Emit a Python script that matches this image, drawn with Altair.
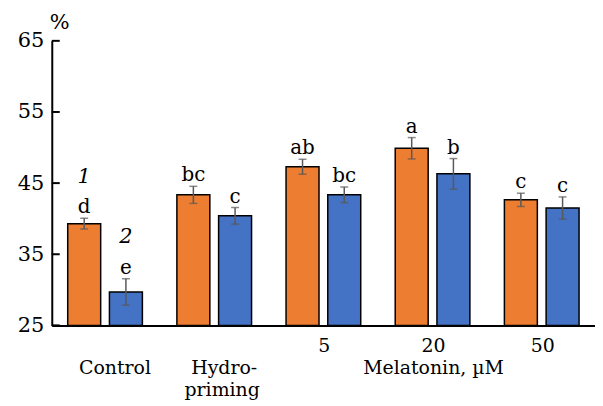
import altair as alt
import pandas as pd

groups = ["Control", "Hydro-priming", "5", "20", "50"]
series = ["1", "2"]
values_1 = [39.3, 43.35, 47.3, 49.9, 42.65]
values_2 = [29.7, 40.4, 43.35, 46.3, 41.5]
errors_1 = [0.75, 1.2, 1.05, 1.5, 0.93]
errors_2 = [1.86, 1.17, 1.1, 2.15, 1.56]
letters_1 = ["d", "bc", "ab", "a", "c"]
letters_2 = ["e", "c", "bc", "b", "c"]
y_ticks = [25, 35, 45, 55, 65]
colors = ["#ED7D31", "#4472C4"]

rows = []
for i, g in enumerate(groups):
    for s, vals, errs, lets in [("1", values_1, errors_1, letters_1), ("2", values_2, errors_2, letters_2)]:
        rows.append({
            "group": g, "series": s, "value": vals[i],
            "lo": vals[i] - errs[i], "hi": vals[i] + errs[i],
            "letter": lets[i], "num": s if g == "Control" else "",
        })
df = pd.DataFrame(rows)

FONT = "DejaVu Serif"

xenc = alt.X("group:N", sort=groups,
             scale=alt.Scale(paddingInner=0.316, paddingOuter=0.146),
             axis=alt.Axis(labels=False, ticks=False, title=None, grid=False,
                           domainColor="black", domainWidth=2))
xoff = alt.XOffset("series:N", sort=series, scale=alt.Scale(paddingInner=0.21, paddingOuter=0))
yscale = alt.Scale(domain=[25, 65], zero=False, nice=False)

base = alt.Chart(df).encode(x=xenc, xOffset=xoff)

bars = base.mark_bar(stroke="black", strokeWidth=1.5).encode(
    y=alt.Y("value:Q", scale=yscale,
            axis=alt.Axis(values=y_ticks, grid=False, ticks=False, tickSize=0,
                          domainColor="black", domainWidth=2, title=None,
                          labelFont=FONT, labelFontSize=21, labelColor="black",
                          labelPadding=8)),
    y2=alt.datum(25),
    color=alt.Color("series:N", scale=alt.Scale(domain=series, range=colors), legend=None),
)

err = base.mark_rule(color="#595959", strokeWidth=1.5).encode(
    y=alt.Y("lo:Q", scale=yscale), y2="hi:Q")
cap_hi = base.mark_tick(color="#595959", orient="horizontal", size=8, thickness=1.5).encode(
    y=alt.Y("hi:Q", scale=yscale))
cap_lo = base.mark_tick(color="#595959", orient="horizontal", size=8, thickness=1.5).encode(
    y=alt.Y("lo:Q", scale=yscale))

letters = base.mark_text(font=FONT, fontSize=20, baseline="alphabetic", dy=-5, color="black").encode(
    y=alt.Y("hi:Q", scale=yscale), text="letter:N")

nums = base.transform_filter("datum.num != ''").mark_text(
    font=FONT, fontSize=21, fontStyle="italic", baseline="alphabetic", dy=-36, color="black"
).encode(y=alt.Y("hi:Q", scale=yscale), text="num:N")

ticks_in = alt.Chart(pd.DataFrame({"t": y_ticks})).mark_rule(color="black", strokeWidth=2).encode(
    y=alt.Y("t:Q", scale=yscale), x=alt.value(0), x2=alt.value(8))

row1 = pd.DataFrame({"group": ["Control", "Hydro-priming"], "label": ["Control", "Hydro-"]})
lab1 = alt.Chart(row1).mark_text(font=FONT, fontSize=19, baseline="alphabetic", dx=10, color="black").encode(
    x=alt.X("group:N", sort=groups), y=alt.value(335), text="label:N")
row2 = pd.DataFrame({"group": ["Hydro-priming"], "label": ["priming"]})
lab2 = alt.Chart(row2).mark_text(font=FONT, fontSize=19, baseline="alphabetic", dx=8, color="black").encode(
    x=alt.X("group:N", sort=groups), y=alt.value(357), text="label:N")
row3 = pd.DataFrame({"group": ["5", "20", "50"], "label": ["5", "20", "50"]})
lab3 = alt.Chart(row3).mark_text(font=FONT, fontSize=19, baseline="alphabetic", dx=1, color="black").encode(
    x=alt.X("group:N", sort=groups), y=alt.value(313), text="label:N")
row4 = pd.DataFrame({"group": ["20"], "label": ["Melatonin, µM"]})
lab4 = alt.Chart(row4).mark_text(font=FONT, fontSize=19, baseline="alphabetic", dx=1, color="black").encode(
    x=alt.X("group:N", sort=groups), y=alt.value(335), text="label:N")

pct = alt.Chart(pd.DataFrame({"t": ["%"]})).mark_text(
    font=FONT, fontSize=21, baseline="alphabetic", align="left", color="black"
).encode(x=alt.value(-2), y=alt.value(-12), text="t:N")

chart = alt.layer(bars, err, cap_hi, cap_lo, letters, nums, ticks_in, lab1, lab2, lab3, lab4, pct).properties(
    width=546, height=286,
    autosize=alt.AutoSizeParams(type="none"),
    padding={"left": 44, "top": 32, "right": 0, "bottom": 76},
).configure(background="white", view=alt.ViewConfig(stroke=None))

chart.save("out.html", embed_options={"renderer": "svg", "actions": False})
